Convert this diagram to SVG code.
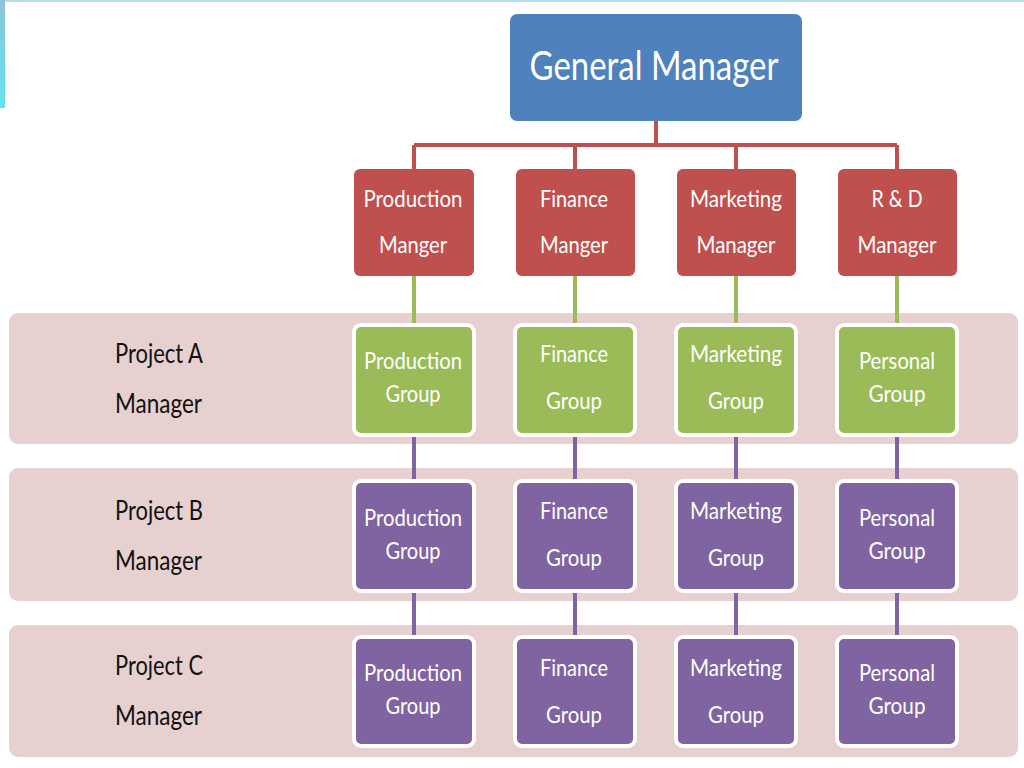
<svg xmlns="http://www.w3.org/2000/svg" width="1024" height="768" viewBox="0 0 1024 768">
<defs>
<linearGradient id="cy" x1="0" y1="0" x2="0" y2="1">
<stop offset="0" stop-color="#8cc3dc"/>
<stop offset="1" stop-color="#62e4ef"/>
</linearGradient>
<style>
text{font-family:Lato,"Open Sans","Liberation Sans",sans-serif;text-anchor:middle}
.w{fill:#ffffff;font-size:24px}
.lbl{fill:#111111;font-size:27px;text-anchor:start}
.band{fill:#e7d0d0}
.gm{fill:#4f81bd}
.red{fill:#c0504d}
.grn{fill:#9bbb59;stroke:#ffffff;stroke-width:4}
.pur{fill:#8064a2;stroke:#ffffff;stroke-width:4}
.cr{stroke:#c0504d;stroke-width:4;fill:none}
.cg{stroke:#9bbb59;stroke-width:4;fill:none}
.cp{stroke:#8064a2;stroke-width:4;fill:none}
</style>
</defs>
<rect width="1024" height="768" fill="#ffffff"/>
<rect x="0" y="0" width="1024" height="2" fill="#b4e0ea"/>
<rect x="0" y="0" width="5" height="108" fill="url(#cy)"/>

<g id="bands">
<rect class="band" x="9" y="313" width="1009" height="131" rx="9"/>
<rect class="band" x="9" y="468" width="1009" height="133" rx="9"/>
<rect class="band" x="9" y="625" width="1009" height="132" rx="9"/>
</g>

<g id="connectors">
<path class="cr" d="M656 121V145M414 145H897M414 145V170M575 145V170M736 145V170M897 145V170"/>
<path class="cg" d="M414 276V325M575 276V325M736 276V325M897 276V325"/>
<path class="cp" d="M414 435V481M575 435V481M736 435V481M897 435V481M414 591V638M575 591V638M736 591V638M897 591V638"/>
</g>

<g id="general-manager">
<rect class="gm" x="510" y="14" width="292" height="107" rx="7"/>
<text class="w" x="654" y="80" style="font-size:41px" textLength="249" lengthAdjust="spacingAndGlyphs">General Manager</text>
</g>

<g id="production-manager">
<rect class="red" x="354" y="169" width="120" height="107" rx="6"/>
<text class="w" x="413" y="207" textLength="99" lengthAdjust="spacingAndGlyphs">Production</text>
<text class="w" x="413" y="253" textLength="68" lengthAdjust="spacingAndGlyphs">Manger</text>
</g>
<g id="finance-manager">
<rect class="red" x="516" y="169" width="119" height="107" rx="6"/>
<text class="w" x="574" y="207" textLength="68" lengthAdjust="spacingAndGlyphs">Finance</text>
<text class="w" x="574" y="253" textLength="68" lengthAdjust="spacingAndGlyphs">Manger</text>
</g>
<g id="marketing-manager">
<rect class="red" x="677" y="169" width="119" height="107" rx="6"/>
<text class="w" x="736" y="207" textLength="92" lengthAdjust="spacingAndGlyphs">Marketing</text>
<text class="w" x="736" y="253" textLength="79" lengthAdjust="spacingAndGlyphs">Manager</text>
</g>
<g id="rd-manager">
<rect class="red" x="838" y="169" width="119" height="107" rx="6"/>
<text class="w" x="897" y="207" textLength="51" lengthAdjust="spacingAndGlyphs">R &amp; D</text>
<text class="w" x="897" y="253" textLength="79" lengthAdjust="spacingAndGlyphs">Manager</text>
</g>

<g id="label-a">
<text class="lbl" x="115" y="363" textLength="88" lengthAdjust="spacingAndGlyphs">Project A</text>
<text class="lbl" x="115" y="413" textLength="87" lengthAdjust="spacingAndGlyphs">Manager</text>
</g>
<g id="label-b">
<text class="lbl" x="115" y="520" textLength="88" lengthAdjust="spacingAndGlyphs">Project B</text>
<text class="lbl" x="115" y="570" textLength="87" lengthAdjust="spacingAndGlyphs">Manager</text>
</g>
<g id="label-c">
<text class="lbl" x="115" y="675" textLength="88" lengthAdjust="spacingAndGlyphs">Project C</text>
<text class="lbl" x="115" y="725" textLength="87" lengthAdjust="spacingAndGlyphs">Manager</text>
</g>

<g id="a-production">
<rect class="grn" x="354" y="325" width="120" height="110" rx="7"/>
<text class="w" x="413" y="369" textLength="98" lengthAdjust="spacingAndGlyphs">Production</text>
<text class="w" x="413" y="402" textLength="55" lengthAdjust="spacingAndGlyphs">Group</text>
</g>
<g id="a-finance">
<rect class="grn" x="515" y="325" width="120" height="110" rx="7"/>
<text class="w" x="574" y="362" textLength="68" lengthAdjust="spacingAndGlyphs">Finance</text>
<text class="w" x="574" y="409" textLength="56" lengthAdjust="spacingAndGlyphs">Group</text>
</g>
<g id="a-marketing">
<rect class="grn" x="676" y="325" width="120" height="110" rx="7"/>
<text class="w" x="736" y="362" textLength="92" lengthAdjust="spacingAndGlyphs">Marketing</text>
<text class="w" x="736" y="409" textLength="56" lengthAdjust="spacingAndGlyphs">Group</text>
</g>
<g id="a-personal">
<rect class="grn" x="837" y="325" width="120" height="110" rx="7"/>
<text class="w" x="897" y="369" textLength="76" lengthAdjust="spacingAndGlyphs">Personal</text>
<text class="w" x="897" y="402" textLength="57" lengthAdjust="spacingAndGlyphs">Group</text>
</g>

<g id="b-production">
<rect class="pur" x="354" y="481" width="120" height="110" rx="7"/>
<text class="w" x="413" y="526" textLength="98" lengthAdjust="spacingAndGlyphs">Production</text>
<text class="w" x="413" y="559" textLength="55" lengthAdjust="spacingAndGlyphs">Group</text>
</g>
<g id="b-finance">
<rect class="pur" x="515" y="481" width="120" height="110" rx="7"/>
<text class="w" x="574" y="519" textLength="68" lengthAdjust="spacingAndGlyphs">Finance</text>
<text class="w" x="574" y="566" textLength="56" lengthAdjust="spacingAndGlyphs">Group</text>
</g>
<g id="b-marketing">
<rect class="pur" x="676" y="481" width="120" height="110" rx="7"/>
<text class="w" x="736" y="519" textLength="92" lengthAdjust="spacingAndGlyphs">Marketing</text>
<text class="w" x="736" y="566" textLength="56" lengthAdjust="spacingAndGlyphs">Group</text>
</g>
<g id="b-personal">
<rect class="pur" x="837" y="481" width="120" height="110" rx="7"/>
<text class="w" x="897" y="526" textLength="76" lengthAdjust="spacingAndGlyphs">Personal</text>
<text class="w" x="897" y="559" textLength="57" lengthAdjust="spacingAndGlyphs">Group</text>
</g>

<g id="c-production">
<rect class="pur" x="354" y="637" width="120" height="109" rx="7"/>
<text class="w" x="413" y="681" textLength="98" lengthAdjust="spacingAndGlyphs">Production</text>
<text class="w" x="413" y="714" textLength="55" lengthAdjust="spacingAndGlyphs">Group</text>
</g>
<g id="c-finance">
<rect class="pur" x="515" y="637" width="120" height="109" rx="7"/>
<text class="w" x="574" y="676" textLength="68" lengthAdjust="spacingAndGlyphs">Finance</text>
<text class="w" x="574" y="723" textLength="56" lengthAdjust="spacingAndGlyphs">Group</text>
</g>
<g id="c-marketing">
<rect class="pur" x="676" y="637" width="120" height="109" rx="7"/>
<text class="w" x="736" y="676" textLength="92" lengthAdjust="spacingAndGlyphs">Marketing</text>
<text class="w" x="736" y="723" textLength="56" lengthAdjust="spacingAndGlyphs">Group</text>
</g>
<g id="c-personal">
<rect class="pur" x="837" y="637" width="120" height="109" rx="7"/>
<text class="w" x="897" y="681" textLength="76" lengthAdjust="spacingAndGlyphs">Personal</text>
<text class="w" x="897" y="714" textLength="57" lengthAdjust="spacingAndGlyphs">Group</text>
</g>
</svg>
